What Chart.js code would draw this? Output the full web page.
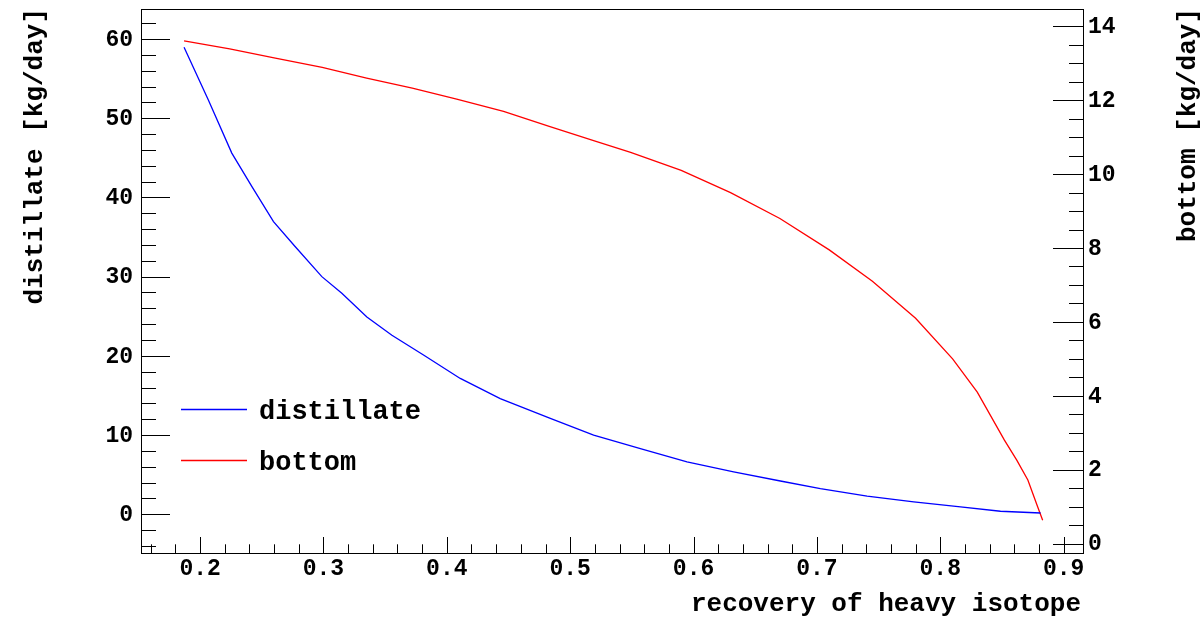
<!DOCTYPE html>
<html>
<head>
<meta charset="utf-8">
<script src="https://cdn.jsdelivr.net/npm/chart.js@4/dist/chart.umd.min.js"></script>
<style>
  html, body { margin: 0; padding: 0; background: #fff; }
  #plot { display: block; }
</style>
</head>
<body>
<canvas id="plot" width="1204" height="618"></canvas>
<script>
// recovery of heavy isotope (x) and flows
const distRecovery = [0.187, 0.2067, 0.2257, 0.2419, 0.2595, 0.277, 0.2987, 0.3149, 0.3352, 0.3555, 0.3811,
  0.4109, 0.4433, 0.4839, 0.519, 0.5569, 0.5947, 0.6325, 0.6704, 0.7028, 0.7407, 0.7785, 0.8164, 0.8488, 0.8813];
const distillate = [58.95, 52.3, 45.6, 41.4, 36.95, 33.8, 30.0, 27.9, 24.9, 22.6, 20.1,
  17.15, 14.6, 12.1, 9.99, 8.3, 6.6, 5.35, 4.2, 3.25, 2.28, 1.56, 0.93, 0.38, 0.16];

const bottomRecovery = [0.187, 0.224, 0.261, 0.299, 0.335, 0.372, 0.408, 0.446, 0.483, 0.519, 0.549,
  0.59, 0.63, 0.67, 0.71, 0.745, 0.78, 0.81, 0.83, 0.852, 0.862, 0.871, 0.879, 0.883];
const bottom = [13.61, 13.39, 13.14, 12.89, 12.60, 12.33, 12.03, 11.70, 11.29, 10.91, 10.59,
  10.1, 9.5, 8.8, 7.95, 7.1, 6.1, 5.0, 4.1, 2.8, 2.26, 1.72, 0.99, 0.63];

const xTicks = [0.2, 0.3, 0.4, 0.5, 0.6, 0.7, 0.8, 0.9];
const leftTicks = [0, 10, 20, 30, 40, 50, 60];
const rightTicks = [0, 2, 4, 6, 8, 10, 12, 14];

const MONO = '"Liberation Mono", "DejaVu Sans Mono", monospace';
const FONT = 'bold 23px ' + MONO;
const TITLE_FONT = 'bold 26px ' + MONO;
const LEGEND_FONT = 'bold 27px ' + MONO;

const toPoints = (xs, ys) => xs.map((x, i) => ({ x: x, y: ys[i] }));

// ROOT-like frame, inside ticks, labels, titles and legend
const rootAxes = {
  id: 'rootAxes',
  afterDraw(chart) {
    const ctx = chart.ctx;
    const a = chart.chartArea;
    const sx = chart.scales.x, sy = chart.scales.y, sy2 = chart.scales.y2;
    ctx.save();
    ctx.strokeStyle = '#000';
    ctx.lineWidth = 1;
    ctx.strokeRect(Math.round(a.left) + 0.5, Math.round(a.top) + 0.5,
      Math.round(a.right - a.left), Math.round(a.bottom - a.top));

    const hline = (x0, x1, y) => {
      const yy = Math.round(y) + 0.5;
      ctx.beginPath(); ctx.moveTo(x0, yy); ctx.lineTo(x1, yy); ctx.stroke();
    };
    const vline = (x, y0, y1) => {
      const xx = Math.round(x) + 0.5;
      ctx.beginPath(); ctx.moveTo(xx, y0); ctx.lineTo(xx, y1); ctx.stroke();
    };

    // left axis ticks
    for (let v = -4; v <= 62.01; v += 2) {
      const major = Math.abs(v % 10) < 1e-6;
      hline(a.left, a.left + (major ? 29 : 15), sy.getPixelForValue(v));
    }
    // right axis ticks
    for (let v = 0; v <= 14.01; v += 0.5) {
      const major = Math.abs(v % 2) < 1e-6;
      hline(a.right - (major ? 30 : 14), a.right, sy2.getPixelForValue(v));
    }
    // x axis ticks
    for (let i = 8; i <= 45; i++) {
      const v = i * 0.02;
      const major = i % 5 === 0;
      vline(sx.getPixelForValue(v), a.bottom, a.bottom - (major ? 16 : 8.7));
    }

    ctx.fillStyle = '#000';
    ctx.font = FONT;
    ctx.textBaseline = 'middle';
    ctx.textAlign = 'right';
    leftTicks.forEach(v => ctx.fillText(String(v), 133, sy.getPixelForValue(v) + 1));
    ctx.textAlign = 'left';
    rightTicks.forEach(v => ctx.fillText(String(v), 1088, sy2.getPixelForValue(v) + 1));
    ctx.textAlign = 'center';
    xTicks.forEach(v => ctx.fillText(v.toFixed(1), sx.getPixelForValue(v), 569));

    // axis titles
    ctx.font = TITLE_FONT;
    ctx.textAlign = 'right';
    ctx.fillText('recovery of heavy isotope', 1081, 604);
    ctx.save();
    ctx.translate(35, 8);
    ctx.rotate(-Math.PI / 2);
    ctx.textAlign = 'right';
    ctx.fillText('distillate [kg/day]', 0, 0);
    ctx.restore();
    ctx.save();
    ctx.translate(1188, 8);
    ctx.rotate(-Math.PI / 2);
    ctx.textAlign = 'right';
    ctx.fillText('bottom [kg/day]', 0, 0);
    ctx.restore();

    // legend
    ctx.font = LEGEND_FONT;
    const rows = [409, 460];
    chart.data.datasets.forEach((ds, i) => {
      ctx.strokeStyle = ds.borderColor;
      ctx.lineWidth = 1.3;
      ctx.beginPath();
      ctx.moveTo(181, rows[i] + 0.5);
      ctx.lineTo(247, rows[i] + 0.5);
      ctx.stroke();
      ctx.fillStyle = '#000';
      ctx.textAlign = 'left';
      ctx.fillText(ds.label, 259, rows[i] + 3);
    });
    ctx.restore();
  }
};

new Chart(document.getElementById('plot'), {
  type: 'line',
  data: {
    datasets: [
      {
        label: 'distillate',
        data: toPoints(distRecovery, distillate),
        yAxisID: 'y',
        borderColor: '#0000ff',
        borderWidth: 1.3,
        pointRadius: 0,
        tension: 0,
        fill: false
      },
      {
        label: 'bottom',
        data: toPoints(bottomRecovery, bottom),
        yAxisID: 'y2',
        borderColor: '#ff0000',
        borderWidth: 1.3,
        pointRadius: 0,
        tension: 0,
        fill: false
      }
    ]
  },
  options: {
    responsive: false,
    animation: false,
    layout: { padding: { left: 141, right: 121, top: 9, bottom: 65 } },
    plugins: { legend: { display: false }, tooltip: { enabled: false } },
    scales: {
      x: { type: 'linear', min: 0.1521, max: 0.9157, display: false },
      y: { type: 'linear', position: 'left', min: -4.89, max: 63.79, display: false },
      y2: { type: 'linear', position: 'right', min: -0.255, max: 14.47, display: false }
    }
  },
  plugins: [rootAxes]
});
</script>
</body>
</html>
